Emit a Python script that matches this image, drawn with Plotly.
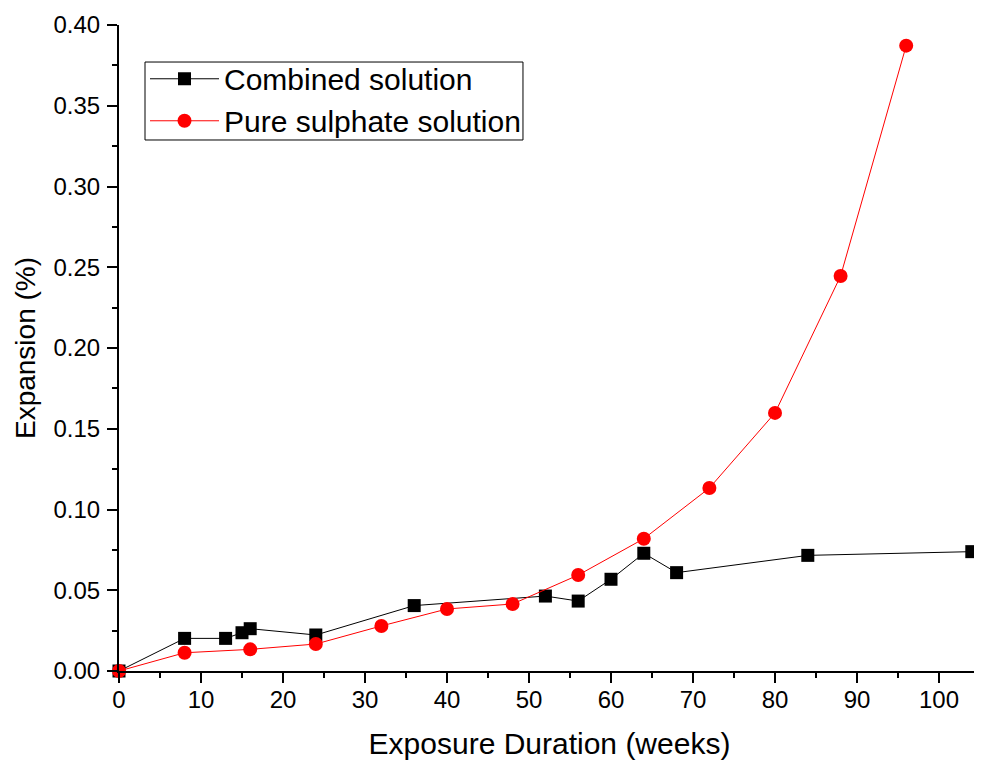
import plotly.graph_objects as go

# Combined solution
comb_x = [0, 8, 13, 15, 16, 24, 36, 52, 56, 60, 64, 68, 84, 104]
comb_y = [0.0, 0.0202, 0.0202, 0.0237, 0.0262, 0.0223, 0.0405, 0.0464, 0.0433, 0.0568, 0.0729, 0.0609, 0.0716, 0.0739]

# Pure sulphate solution
sulf_x = [0, 8, 16, 24, 32, 40, 48, 56, 64, 72, 80, 88, 96]
sulf_y = [0.0, 0.0113, 0.0134, 0.0167, 0.0279, 0.0384, 0.0415, 0.0594, 0.0819, 0.1133, 0.1598, 0.2446, 0.3872]

x_ticks = [0, 10, 20, 30, 40, 50, 60, 70, 80, 90, 100]
y_ticks = [0.00, 0.05, 0.10, 0.15, 0.20, 0.25, 0.30, 0.35, 0.40]

FONT = "Liberation Sans, Arial, sans-serif"

fig = go.Figure()
fig.add_trace(go.Scatter(
    x=comb_x, y=comb_y, mode="lines+markers", name="Combined solution",
    line=dict(color="black", width=1),
    marker=dict(symbol="square", size=13, color="black"),
    cliponaxis=False,
))
fig.add_trace(go.Scatter(
    x=sulf_x, y=sulf_y, mode="lines+markers", name="Pure sulphate solution",
    line=dict(color="red", width=1),
    marker=dict(symbol="circle", size=14, color="red"),
    cliponaxis=False,
))

# legend frame
fig.add_shape(type="rect", xref="paper", yref="paper",
              x0=0.0302, x1=0.4692, y0=0.8220, y1=0.9427,
              line=dict(color="black", width=1), fillcolor="rgba(0,0,0,0)", layer="above")

# page body has an 8px margin, so the figure is sized/offset to compensate
fig.update_layout(
    width=974, height=752,
    margin=dict(l=111, r=2, t=17, b=89, autoexpand=False),
    paper_bgcolor="white", plot_bgcolor="white",
    font=dict(family=FONT, color="black"),
    showlegend=True,
    legend=dict(
        x=0.0302, y=0.957, xanchor="left", yanchor="top",
        borderwidth=0, bgcolor="rgba(0,0,0,0)",
        font=dict(size=30, family=FONT, color="black"),
        itemwidth=69, tracegroupgap=0,
    ),
    xaxis=dict(
        range=[0, 105], tickvals=x_ticks, ticktext=[str(v) for v in x_ticks],
        automargin=False,
        showgrid=False, zeroline=False, showline=True, linecolor="black", linewidth=2,
        ticks="outside", ticklen=10, tickwidth=2, tickcolor="black",
        minor=dict(dtick=5, tick0=0, ticks="outside", ticklen=5, tickwidth=2, tickcolor="black"),
        tickfont=dict(size=24, family=FONT), ticklabelstandoff=-4,
        title=dict(text="Exposure Duration (weeks)", font=dict(size=30, family=FONT), standoff=23),
    ),
    yaxis=dict(
        range=[0, 0.40], tickvals=y_ticks, ticktext=[f"{v:.2f}" for v in y_ticks],
        automargin=False,
        showgrid=False, zeroline=False, showline=True, linecolor="black", linewidth=2,
        ticks="outside", ticklen=10, tickwidth=2, tickcolor="black",
        minor=dict(dtick=0.025, tick0=0, ticks="outside", ticklen=5, tickwidth=2, tickcolor="black"),
        tickfont=dict(size=24, family=FONT), ticklabelstandoff=2,
        title=dict(text="Expansion (%)", font=dict(size=28, family=FONT), standoff=10),
    ),
)

fig.write_html("out.html")
